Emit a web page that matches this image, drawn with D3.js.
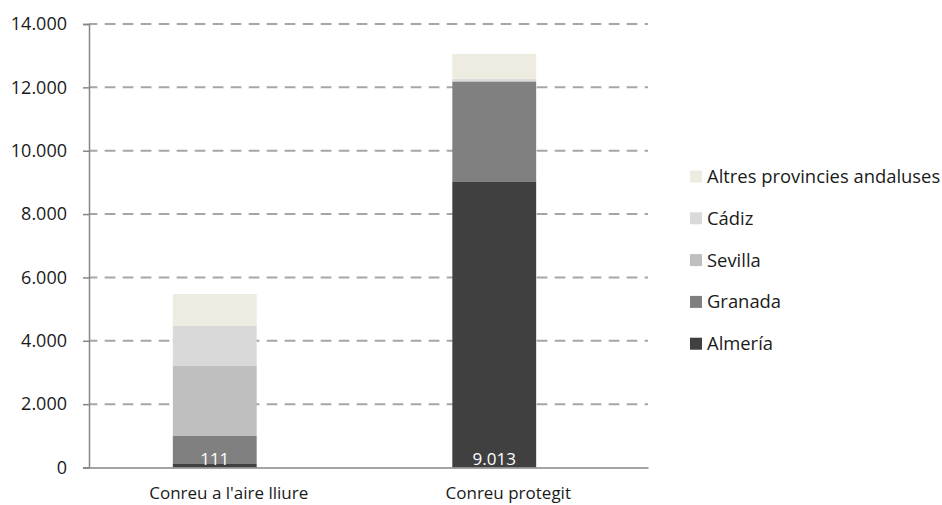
<!DOCTYPE html>
<html>
<head>
<meta charset="utf-8">
<script src="https://cdn.jsdelivr.net/npm/d3@7"></script>
<style>
  html, body { margin: 0; padding: 0; background: #fff; }
  svg { display: block; font-family: "Open Sans", "Noto Sans", sans-serif; }
</style>
</head>
<body>
<svg id="chart" width="942" height="505"></svg>
<script>
// Cultivation type (x categories)
const categories = ["Conreu a l'aire lliure", "Conreu protegit"];

// Stacked series, bottom to top
const seriesNames = ["Almería", "Granada", "Sevilla", "Cádiz", "Altres provincies andaluses"];
const almeria = [111, 9013];
const granada = [884, 3159];
const sevilla = [2210, 45];
const cadiz = [1263, 50];
const altres = [1010, 790];

const seriesColors = ["#404040", "#808080", "#bfbfbf", "#d9d9d9", "#eeece1"];

// Y axis ticks
const yTicks = [0, 2000, 4000, 6000, 8000, 10000, 12000, 14000];
const yTickLabels = ["0", "2.000", "4.000", "6.000", "8.000", "10.000", "12.000", "14.000"];

// Labels printed on the Almería segments
const almeriaLabels = ["111", "9.013"];

const rows = categories.map((c, i) => ({
  category: c,
  "Almería": almeria[i],
  "Granada": granada[i],
  "Sevilla": sevilla[i],
  "Cádiz": cadiz[i],
  "Altres provincies andaluses": altres[i]
}));

const svg = d3.select("#chart");
const plot = { left: 89, right: 648, top: 24, bottom: 467.5 };
const barShift = -14; // bars sit slightly left of the category centre

const x = d3.scaleBand().domain(categories).range([plot.left, plot.right]).padding(0);
const barWidth = x.bandwidth() * 0.3;
const barX = c => x(c) + (x.bandwidth() - barWidth) / 2 + barShift;
const y = d3.scaleLinear().domain([0, 14000]).range([plot.bottom, plot.top]);
const color = d3.scaleOrdinal().domain(seriesNames).range(seriesColors);

// Dashed gridlines
svg.append("g")
  .selectAll("line")
  .data(yTicks.filter(t => t > 0))
  .join("line")
  .attr("x1", plot.left)
  .attr("x2", plot.right)
  .attr("y1", d => y(d))
  .attr("y2", d => y(d))
  .attr("stroke", "#a6a6a6")
  .attr("stroke-width", 2)
  .attr("stroke-dasharray", "10.7,7.3")
  .attr("stroke-dashoffset", 2.3);

// Stacked bars
const stack = d3.stack().keys(seriesNames);
const layers = stack(rows);

svg.append("g")
  .selectAll("g")
  .data(layers)
  .join("g")
  .attr("fill", d => color(d.key))
  .selectAll("rect")
  .data(d => d)
  .join("rect")
  .attr("x", d => barX(d.data.category))
  .attr("width", barWidth)
  .attr("y", d => y(d[1]))
  .attr("height", d => y(d[0]) - y(d[1]));

// Value labels on Almería
svg.append("g")
  .selectAll("text")
  .data(categories)
  .join("text")
  .attr("x", d => barX(d) + barWidth / 2)
  .attr("y", plot.bottom - 3)
  .attr("text-anchor", "middle")
  .attr("fill", "#ffffff")
  .attr("font-size", 17)
  .text((d, i) => almeriaLabels[i]);

// Y axis
const yAxis = d3.axisLeft(y)
  .tickValues(yTicks)
  .tickFormat((d, i) => yTickLabels[i])
  .tickSize(6)
  .tickPadding(16);

const yG = svg.append("g")
  .attr("transform", `translate(${plot.left},0)`)
  .call(yAxis);
yG.select(".domain").attr("stroke", "#868686").attr("stroke-width", 1.5);
yG.selectAll(".tick line").attr("stroke", "#868686").attr("stroke-width", 1.5);
yG.selectAll(".tick text").attr("font-size", 18).attr("fill", "#1a1a1a")
  .attr("font-family", "'Open Sans', sans-serif");

// X axis baseline
const xAxis = d3.axisBottom(x).tickSize(0).tickPadding(0);
const xG = svg.append("g")
  .attr("transform", `translate(0,${plot.bottom})`)
  .call(xAxis);
xG.select(".domain").attr("stroke", "#868686").attr("stroke-width", 1.5);
xG.selectAll(".tick text")
  .attr("font-size", 17)
  .attr("fill", "#1a1a1a")
  .attr("font-family", "'Open Sans', sans-serif")
  .attr("dy", 0)
  .attr("y", 31.5);

// Legend, top entry first
const legendItems = seriesNames.slice().reverse();
const legend = svg.append("g").attr("transform", "translate(690,176.5)");
const li = legend.selectAll("g")
  .data(legendItems)
  .join("g")
  .attr("transform", (d, i) => `translate(0,${i * 41.8})`);
li.append("rect")
  .attr("x", 0)
  .attr("y", -6)
  .attr("width", 12)
  .attr("height", 12)
  .attr("fill", d => color(d));
li.append("text")
  .attr("x", 17)
  .attr("y", 0)
  .attr("dy", "0.35em")
  .attr("font-size", 18.4)
  .attr("fill", "#1a1a1a")
  .text(d => d);
</script>
</body>
</html>
